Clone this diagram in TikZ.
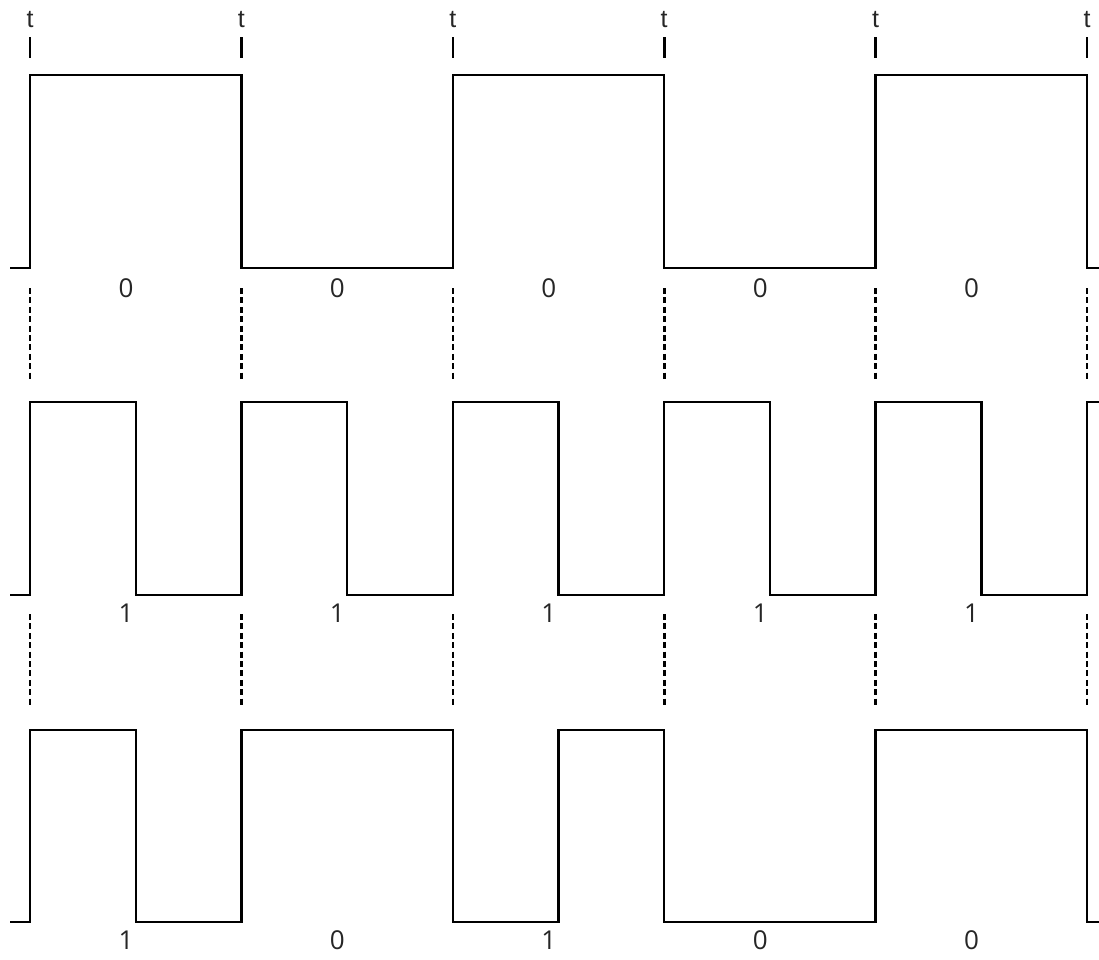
\documentclass[tikz,border=0pt]{standalone}
\usepackage{fontspec}
\setmainfont{Open Sans}
\newfontfamily\tfont{Liberation Sans}
\begin{document}
\begin{tikzpicture}[x=1pt,y=-1pt,
  wave/.style={line width=2.4pt,line join=miter,black},
  tick/.style={line width=2.6pt,black},
  sync/.style={line width=2.6pt,black,dash pattern=on 6pt off 3.4pt},
  tlabel/.style={font=\tfont\fontsize{25}{25}\selectfont,text=black!85,inner sep=0pt},
  bitlabel/.style={font=\fontsize{26}{26}\selectfont,text=black!85,inner sep=0pt}]
\useasboundingbox (0,0) rectangle (1099,959);
% edges
\foreach \i in {0,...,5}{
  \pgfmathsetmacro{\xx}{30+211.4*\i}
  \node[tlabel] (t\i) at (\xx,20) {t};
  \coordinate (ta\i) at (\xx,37);
  \coordinate (tb\i) at (\xx,58);
  \draw[tick] (ta\i) -- (tb\i);
  \coordinate (da\i) at (\xx,288);
  \coordinate (db\i) at (\xx,381);
  \draw[sync] (da\i) -- (db\i);
  \coordinate (dc\i) at (\xx,614);
  \coordinate (dd\i) at (\xx,707);
  \draw[sync] (dc\i) -- (dd\i);
}
% row 1 : 0 0 0 0 0
\draw[wave] (10,268) -- (30,268) -- (30,75) -- (241.4,75) -- (241.4,268) -- (452.8,268) -- (452.8,75)
  -- (664.2,75) -- (664.2,268) -- (875.6,268) -- (875.6,75) -- (1087,75) -- (1087,268) -- (1099,268);
% row 2 : 1 1 1 1 1
\draw[wave] (10,595) -- (30,595) -- (30,402) -- (135.7,402) -- (135.7,595) -- (241.4,595) -- (241.4,402)
  -- (347.1,402) -- (347.1,595) -- (452.8,595) -- (452.8,402) -- (558.5,402) -- (558.5,595)
  -- (664.2,595) -- (664.2,402) -- (769.9,402) -- (769.9,595) -- (875.6,595) -- (875.6,402)
  -- (981.3,402) -- (981.3,595) -- (1087,595) -- (1087,402) -- (1099,402);
% row 3 : 1 0 1 0 0
\draw[wave] (10,922) -- (30,922) -- (30,730) -- (135.7,730) -- (135.7,922) -- (241.4,922) -- (241.4,730)
  -- (452.8,730) -- (452.8,922) -- (558.5,922) -- (558.5,730) -- (664.2,730) -- (664.2,922)
  -- (875.6,922) -- (875.6,730) -- (1087,730) -- (1087,922) -- (1099,922);
% bit labels
\node[bitlabel] (a0) at (126,288) {0};
\node[bitlabel] (a1) at (337.4,288) {0};
\node[bitlabel] (a2) at (548.8,288) {0};
\node[bitlabel] (a3) at (760.2,288) {0};
\node[bitlabel] (a4) at (971.6,288) {0};
\node[bitlabel] (b0) at (126,613) {1};
\node[bitlabel] (b1) at (337.4,613) {1};
\node[bitlabel] (b2) at (548.8,613) {1};
\node[bitlabel] (b3) at (760.2,613) {1};
\node[bitlabel] (b4) at (971.6,613) {1};
\node[bitlabel] (c0) at (126,940) {1};
\node[bitlabel] (c1) at (337.4,940) {0};
\node[bitlabel] (c2) at (548.8,940) {1};
\node[bitlabel] (c3) at (760.2,940) {0};
\node[bitlabel] (c4) at (971.6,940) {0};
\end{tikzpicture}
\end{document}
